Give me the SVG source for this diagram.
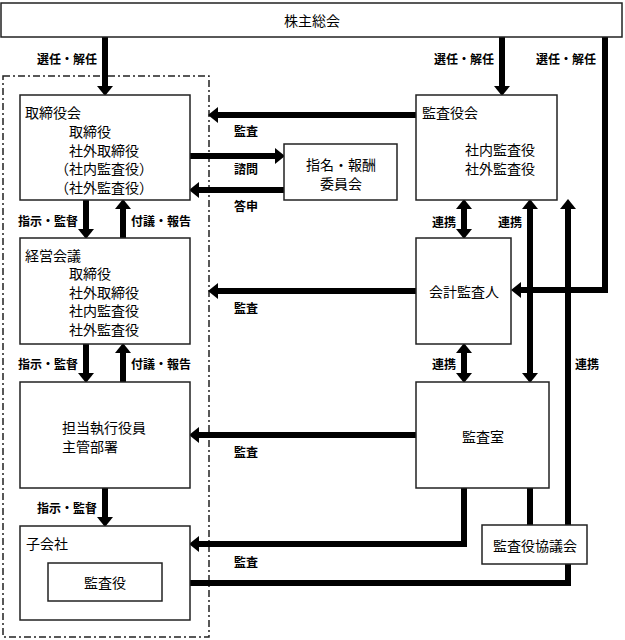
<svg xmlns="http://www.w3.org/2000/svg" width="625" height="640" viewBox="0 0 625 640">
<style>
.box{fill:#fff;stroke:#222;stroke-width:1.5}
.grp{fill:none;stroke:#222;stroke-width:1.5;stroke-dasharray:7 3 2 3}
.t{font-family:"Noto Sans CJK JP","Noto Sans CJK SC",sans-serif;font-size:14px;fill:#000;dominant-baseline:central}
.l{font-family:"Noto Sans CJK JP","Noto Sans CJK SC",sans-serif;font-size:12px;font-weight:bold;fill:#000;dominant-baseline:central;text-anchor:middle}
.c{text-anchor:middle}
.w{fill:none;stroke:#000;stroke-width:6}
.a{marker-end:url(#ah)}
.d{marker-start:url(#ah);marker-end:url(#ah)}
</style>
<defs>
<marker id="ah" markerUnits="userSpaceOnUse" markerWidth="10" markerHeight="16" refX="0" refY="8" orient="auto-start-reverse" overflow="visible">
<path d="M0,0 L10,8 L0,16 Z" fill="#000"/>
</marker>
</defs>
<rect class="grp" x="3" y="76" width="206" height="561"/>
<g id="connectors">
<path class="w a" d="M105,37 V86"/>
<path class="w a" d="M502,37 V86"/>
<path class="w a" d="M605,37 V290 H521"/>
<path class="w a" d="M416,115 H218"/>
<path class="w a" d="M190,156 H275"/>
<path class="w a" d="M284,190 H199"/>
<path class="w a" d="M86,200 V229"/>
<path class="w a" d="M123,238 V209"/>
<path class="w a" d="M86,344 V373"/>
<path class="w a" d="M123,382 V353"/>
<path class="w a" d="M416,291 H218"/>
<path class="w d" d="M464,209 V229"/>
<path class="w d" d="M464,353 V373"/>
<path class="w d" d="M530,209 V373"/>
<path class="w a" d="M568,525 V209"/>
<path class="w a" d="M416,435 H199"/>
<path class="w a" d="M464,488 V544 H199"/>
<path class="w" d="M530,488 V525"/>
<path class="w a" d="M568,564 V583 H171"/>
<path class="w a" d="M105,488 V517"/>
</g>
<g id="labels">
<text class="l" x="67" y="58">選任・解任</text>
<text class="l" x="464" y="58">選任・解任</text>
<text class="l" x="566" y="58">選任・解任</text>
<text class="l" x="246" y="130">監査</text>
<text class="l" x="246" y="168">諮問</text>
<text class="l" x="246" y="205">答申</text>
<text class="l" x="48" y="220">指示・監督</text>
<text class="l" x="161" y="220">付議・報告</text>
<text class="l" x="48" y="363">指示・監督</text>
<text class="l" x="161" y="363">付議・報告</text>
<text class="l" x="246" y="307">監査</text>
<text class="l" x="444" y="221">連携</text>
<text class="l" x="510" y="221">連携</text>
<text class="l" x="444" y="363">連携</text>
<text class="l" x="587" y="363">連携</text>
<text class="l" x="246" y="451">監査</text>
<text class="l" x="246" y="561">監査</text>
<text class="l" x="67" y="507">指示・監督</text>
</g>
<g id="shareholders">
<rect class="box" x="1" y="3" width="621" height="34"/>
<text class="t c" x="312" y="20">株主総会</text>
</g>
<g id="board">
<rect class="box" x="20" y="95" width="170" height="105"/>
<text class="t" x="25" y="111.5">取締役会</text>
<text class="t" x="69" y="130.5">取締役</text>
<text class="t" x="69" y="149.5">社外取締役</text>
<text class="t" x="55" y="168">（社内監査役）</text>
<text class="t" x="55" y="186.5">（社外監査役）</text>
</g>
<g id="committee">
<rect class="box" x="284" y="144" width="113" height="56"/>
<text class="t c" x="341" y="164">指名・報酬</text>
<text class="t c" x="341" y="183">委員会</text>
</g>
<g id="auditboard">
<rect class="box" x="416" y="95" width="141" height="105"/>
<text class="t" x="422" y="112">監査役会</text>
<text class="t" x="465" y="149">社内監査役</text>
<text class="t" x="465" y="168">社外監査役</text>
</g>
<g id="management">
<rect class="box" x="20" y="238" width="170" height="106"/>
<text class="t" x="25" y="254.5">経営会議</text>
<text class="t" x="69" y="273">取締役</text>
<text class="t" x="69" y="291.5">社外取締役</text>
<text class="t" x="69" y="310">社内監査役</text>
<text class="t" x="69" y="328.5">社外監査役</text>
</g>
<g id="accountant">
<rect class="box" x="416" y="238" width="95" height="106"/>
<text class="t c" x="464" y="291">会計監査人</text>
</g>
<g id="executives">
<rect class="box" x="20" y="382" width="170" height="106"/>
<text class="t" x="62" y="427">担当執行役員</text>
<text class="t" x="62" y="446">主管部署</text>
</g>
<g id="auditoffice">
<rect class="box" x="416" y="382" width="133" height="106"/>
<text class="t c" x="483" y="436">監査室</text>
</g>
<g id="council">
<rect class="box" x="482" y="525" width="105" height="39"/>
<text class="t c" x="535" y="545">監査役協議会</text>
</g>
<g id="subsidiary">
<rect class="box" x="20" y="526" width="170" height="94"/>
<text class="t" x="26" y="543">子会社</text>
</g>
<g id="subauditor">
<rect class="box" x="48" y="563" width="114" height="38"/>
<text class="t c" x="105" y="582">監査役</text>
</g>
</svg>
